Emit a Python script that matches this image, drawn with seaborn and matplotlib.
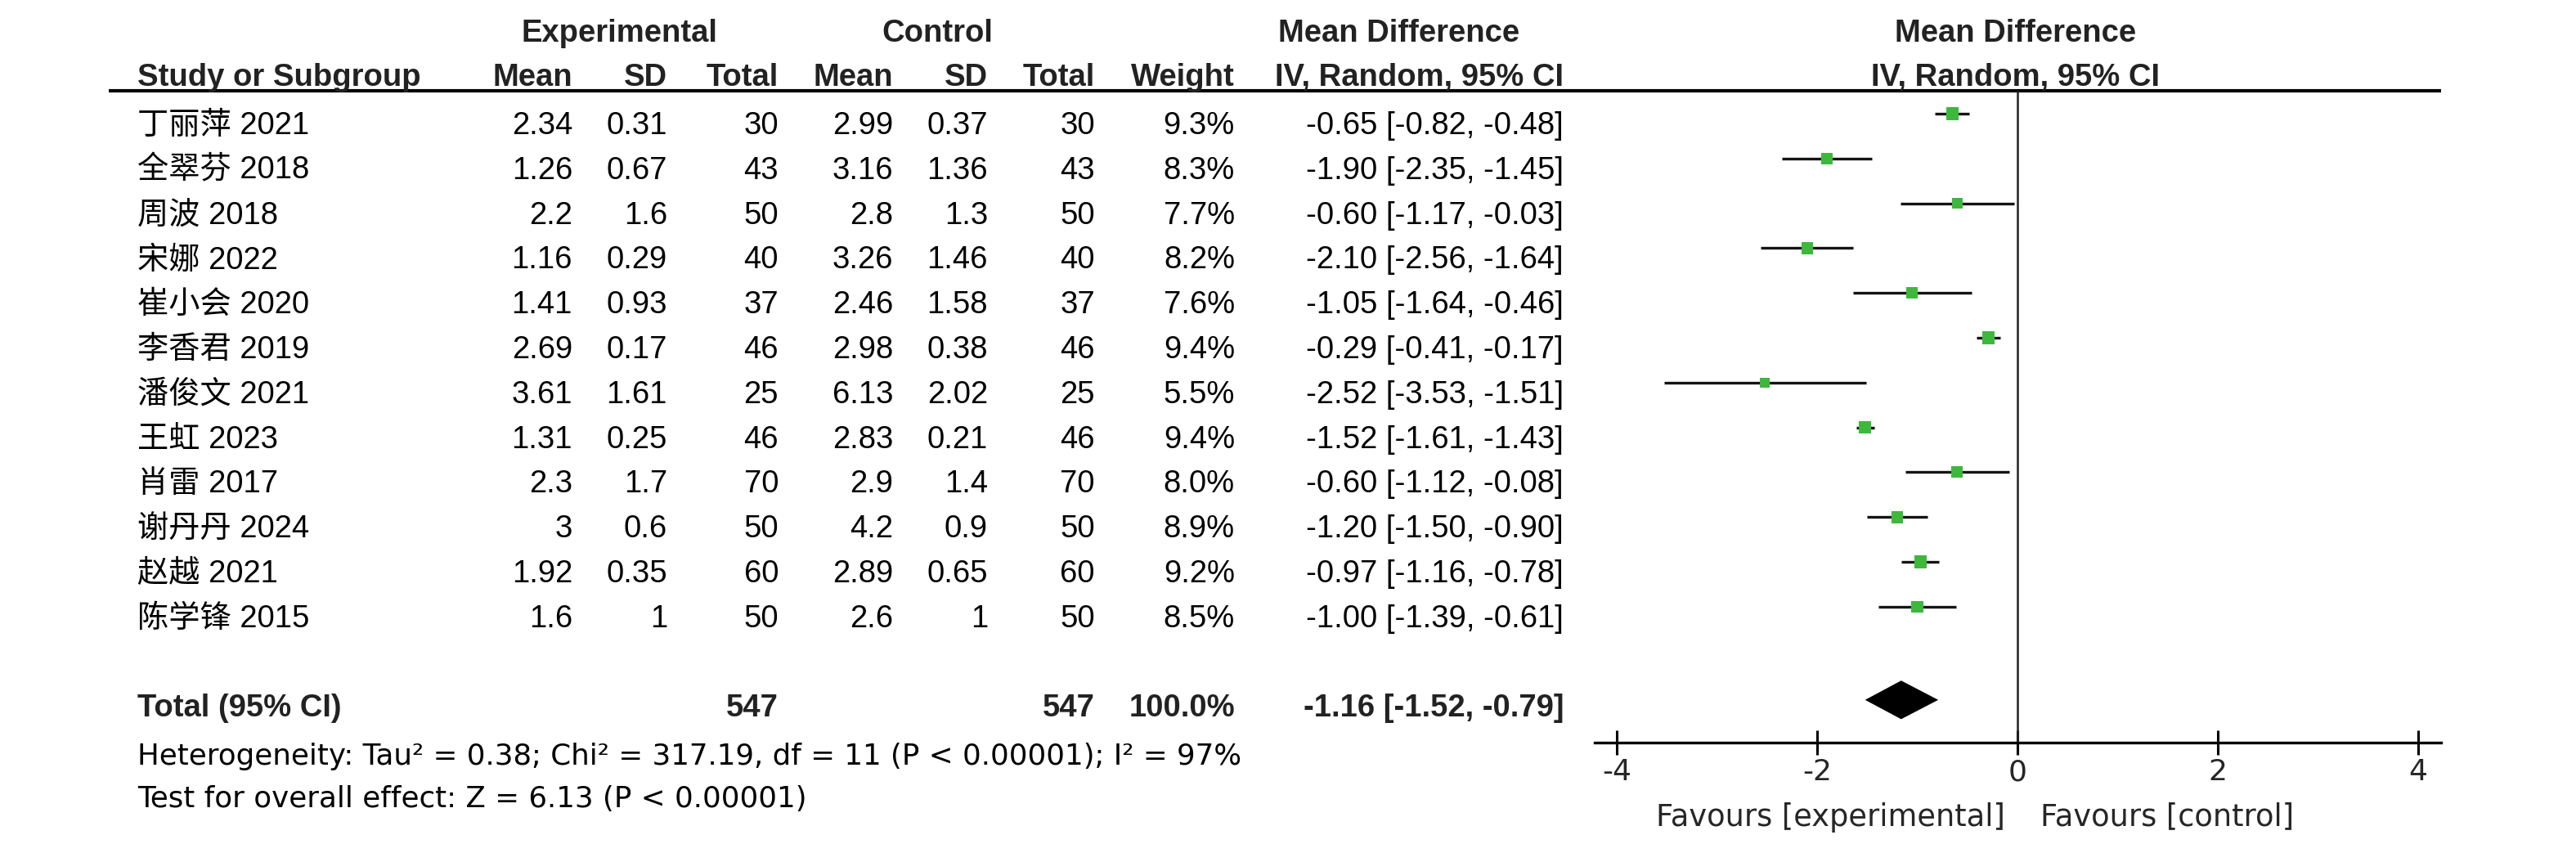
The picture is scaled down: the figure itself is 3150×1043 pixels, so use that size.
import numpy as np
import pandas as pd
import matplotlib
matplotlib.use('Agg')
import matplotlib.pyplot as plt
import seaborn as sns

# ---- data ----
studies = ['丁丽萍 2021', '全翠芬 2018', '周波 2018', '宋娜 2022', '崔小会 2020', '李香君 2019',
           '潘俊文 2021', '王虹 2023', '肖雷 2017', '谢丹丹 2024', '赵越 2021', '陈学锋 2015']
exp_mean = ['2.34', '1.26', '2.2', '1.16', '1.41', '2.69', '3.61', '1.31', '2.3', '3', '1.92', '1.6']
exp_sd = ['0.31', '0.67', '1.6', '0.29', '0.93', '0.17', '1.61', '0.25', '1.7', '0.6', '0.35', '1']
exp_n = [30, 43, 50, 40, 37, 46, 25, 46, 70, 50, 60, 50]
ctl_mean = ['2.99', '3.16', '2.8', '3.26', '2.46', '2.98', '6.13', '2.83', '2.9', '4.2', '2.89', '2.6']
ctl_sd = ['0.37', '1.36', '1.3', '1.46', '1.58', '0.38', '2.02', '0.21', '1.4', '0.9', '0.65', '1']
ctl_n = [30, 43, 50, 40, 37, 46, 25, 46, 70, 50, 60, 50]
weight = [9.3, 8.3, 7.7, 8.2, 7.6, 9.4, 5.5, 9.4, 8.0, 8.9, 9.2, 8.5]
md = [-0.65, -1.90, -0.60, -2.10, -1.05, -0.29, -2.52, -1.52, -0.60, -1.20, -0.97, -1.00]
ci_lo = [-0.82, -2.35, -1.17, -2.56, -1.64, -0.41, -3.53, -1.61, -1.12, -1.50, -1.16, -1.39]
ci_hi = [-0.48, -1.45, -0.03, -1.64, -0.46, -0.17, -1.51, -1.43, -0.08, -0.90, -0.78, -0.61]

total_exp_n = 547
total_ctl_n = 547
total_weight = '100.0%'
total_md, total_lo, total_hi = -1.16, -1.52, -0.79
xticks = [-4, -2, 0, 2, 4]
heterogeneity = 'Heterogeneity: Tau² = 0.38; Chi² = 317.19, df = 11 (P < 0.00001); I² = 97%'
overall = 'Test for overall effect: Z = 6.13 (P < 0.00001)'

df = pd.DataFrame({'study': studies, 'md': md, 'lo': ci_lo, 'hi': ci_hi, 'weight': weight})
df['row'] = np.arange(len(df))

# ---- style ----
sns.set_theme(style='white')
plt.rcParams['font.family'] = ['Liberation Sans', 'Noto Sans CJK SC', 'DejaVu Sans']
WIDE = ['DejaVu Sans']

W, H = 3150, 1043
fig = plt.figure(figsize=(W / 100, H / 100), dpi=100)
fig.patch.set_facecolor('white')

# table axes: x in pixels, y in row units
row0, row_step = 149, 54.8
ax_t = fig.add_axes([0, 0, 1, 1])
ax_t.set_xlim(0, W)
ax_t.set_ylim((H - row0) / row_step, -row0 / row_step)
ax_t.axis('off')

def py(px):
    return (px - row0) / row_step

dy = 5 / row_step  # text boxes sit a little lower than their row centre
FS = 27.5
hdr = dict(fontsize=FS, fontweight='bold', color='#222222', va='center')
body = dict(fontsize=FS, color='black', va='center')

# header
ax_t.text(757, py(41), 'Experimental', ha='center', **hdr)
ax_t.text(1146, py(41), 'Control', ha='center', **hdr)
ax_t.text(1711, py(41), 'Mean Difference', ha='center', **hdr)
ax_t.text(2465, py(41), 'Mean Difference', ha='center', **hdr)

col_x = [700, 816, 952, 1092, 1208, 1339, 1510, 1912]
y_h2 = py(95)
ax_t.text(168, y_h2, 'Study or Subgroup', ha='left', **hdr)
for x, lab in zip(col_x, ['Mean', 'SD', 'Total', 'Mean', 'SD', 'Total', 'Weight', 'IV, Random, 95% CI']):
    ax_t.text(x, y_h2, lab, ha='right', **hdr)
ax_t.text(2464, y_h2, 'IV, Random, 95% CI', ha='center', **hdr)
ax_t.hlines(py(111), 133, 2985, color='black', lw=3)

# study rows
for i in range(len(studies)):
    ax_t.text(168, i + dy, studies[i], ha='left', **body)
    cells = [exp_mean[i], exp_sd[i], str(exp_n[i]), ctl_mean[i], ctl_sd[i], str(ctl_n[i]),
             f'{weight[i]:.1f}%', f'{md[i]:.2f} [{ci_lo[i]:.2f}, {ci_hi[i]:.2f}]']
    for x, c in zip(col_x, cells):
        ax_t.text(x, i + dy, c, ha='right', **body)

# total row
tot_row = len(studies) + 1
ax_t.text(168, tot_row + dy, 'Total (95% CI)', ha='left', **hdr)
ax_t.text(col_x[2], tot_row + dy, str(total_exp_n), ha='right', **hdr)
ax_t.text(col_x[5], tot_row + dy, str(total_ctl_n), ha='right', **hdr)
ax_t.text(col_x[6], tot_row + dy, total_weight, ha='right', **hdr)
ax_t.text(col_x[7], tot_row + dy, f'{total_md:.2f} [{total_lo:.2f}, {total_hi:.2f}]', ha='right', **hdr)

ax_t.text(168, py(925), heterogeneity, ha='left', fontsize=25.7, family=WIDE, color='black', va='center')
ax_t.text(168, py(977), overall, ha='left', fontsize=25.7, family=WIDE, color='black', va='center')

# forest axes
ax_left, ax_right, ax_top, ax_bot = 1950, 2985, 111, 908
mark0 = row0 - 10
ax_f = fig.add_axes([ax_left / W, (H - ax_bot) / H, (ax_right - ax_left) / W, (ax_bot - ax_top) / H])
ax_f.patch.set_alpha(0)
ax_f.set_xlim(-4.22, 4.23)
ax_f.set_ylim((ax_bot - mark0) / row_step, (ax_top - mark0) / row_step)

ax_f.axvline(0, color='#222222', lw=1.8, zorder=1)
ax_f.hlines(df['row'], df['lo'], df['hi'], color='#141414', lw=2.4, zorder=2)
sns.scatterplot(data=df, x='md', y='row', size='weight', sizes=(70, 120), size_norm=(5.5, 9.4),
                marker='s', color='#3DB83D', linewidth=0, legend=False, ax=ax_f, zorder=3)
dh = 0.43
yd = tot_row + 0.08
ax_f.fill([total_lo, total_md, total_hi, total_md],
          [yd, yd - dh, yd, yd + dh], color='black', lw=0, zorder=3)

for s in ['top', 'right', 'left']:
    ax_f.spines[s].set_visible(False)
ax_f.spines['bottom'].set_color('black')
ax_f.spines['bottom'].set_linewidth(2.4)
ax_f.set_xticks(xticks)
ax_f.set_xticklabels([str(t) for t in xticks])
ax_f.tick_params(axis='x', direction='inout', length=21.6, width=2.2, color='black',
                 labelsize=26, pad=3, bottom=True)
for lab in ax_f.get_xticklabels():
    lab.set_family(WIDE)
ax_f.set_yticks([])
ax_f.set_xlabel('')
ax_f.set_ylabel('')

y_fav = (999 - mark0) / row_step
ax_f.text(-0.12, y_fav, 'Favours [experimental]', ha='right', va='center', fontsize=26.5,
          family=WIDE, clip_on=False)
ax_f.text(0.23, y_fav, 'Favours [control]', ha='left', va='center', fontsize=26.5,
          family=WIDE, clip_on=False)

plt.savefig('out.png', dpi=100)
